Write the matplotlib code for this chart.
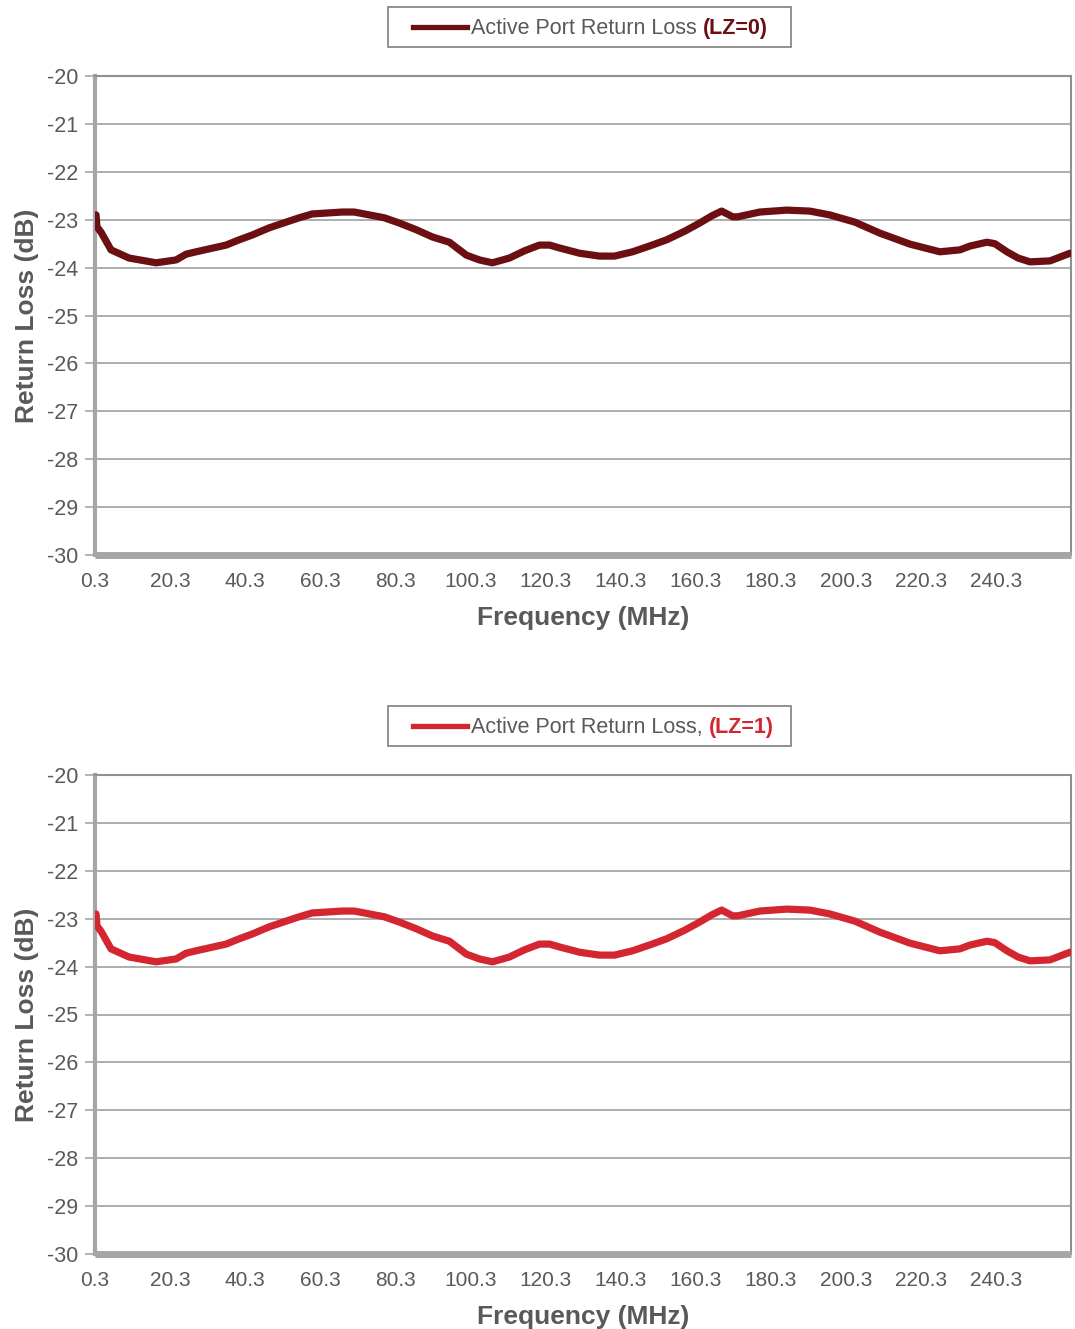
import matplotlib.pyplot as plt
from matplotlib.patches import Rectangle
from matplotlib.lines import Line2D

plt.rcParams["font.family"] = ["Liberation Sans", "DejaVu Sans"]
plt.rcParams["axes.unicode_minus"] = False

# frequency (MHz) and return loss (dB)
freq = [0.3, 0.57, 0.83, 1.9, 4.57, 9.37, 16.57, 21.9, 24.57, 27.23, 35.23,
        38.7, 42.17, 46.7, 51.23, 54.7, 58.17, 66.17, 69.37, 73.37, 77.37,
        81.37, 85.9, 90.17, 94.7, 99.23, 102.7, 106.17, 110.7, 114.7, 118.7,
        121.4, 124.03, 129.4, 134.7, 138.7, 143.5, 148.0, 152.57, 157.4,
        161.37, 164.6, 167.23, 170.17, 171.5, 177.4, 184.57, 190.7, 196.03,
        202.7, 209.37, 217.4, 225.37, 230.7, 233.4, 237.9, 240.0, 243.23,
        246.2, 249.37, 254.7, 260.03]
rl_lz0 = [-22.92, -22.90, -23.15, -23.26, -23.63, -23.80, -23.90, -23.84,
          -23.72, -23.67, -23.53, -23.42, -23.32, -23.17, -23.05, -22.96,
          -22.88, -22.84, -22.84, -22.90, -22.96, -23.07, -23.21, -23.36,
          -23.47, -23.74, -23.84, -23.90, -23.80, -23.65, -23.53, -23.53,
          -23.59, -23.70, -23.76, -23.76, -23.67, -23.55, -23.42, -23.24,
          -23.07, -22.92, -22.82, -22.94, -22.94, -22.84, -22.80, -22.82,
          -22.90, -23.05, -23.28, -23.51, -23.67, -23.63, -23.55, -23.47,
          -23.50, -23.67, -23.80, -23.88, -23.86, -23.70]
rl_lz1 = list(rl_lz0)

xticks = [0.3 + 20 * i for i in range(13)]
yticks = list(range(-30, -19))

W, H = 1075, 1329
fig = plt.figure(figsize=(W / 100, H / 100), dpi=100)

GRAY = "#595959"
SPINE = "#a6a6a6"


def px(x, y):
    return x / W, 1 - y / H


def make_panel(top, ys, color, label, tag, leg_top):
    ax = fig.add_axes([95 / W, 1 - (top + 479) / H, 976 / W, 479 / H])
    ax.plot(freq, ys, color=color, lw=5.2, solid_capstyle="round",
            solid_joinstyle="round", zorder=3)
    ax.set_xlim(0.3, 260.3)
    ax.set_ylim(-30, -20)
    ax.set_xticks(xticks)
    ax.set_xticklabels([f"{t:.1f}" for t in xticks])
    ax.set_yticks(yticks)
    ax.grid(axis="y", color="#a0a0a0", lw=1.2)
    ax.set_axisbelow(True)
    ax.tick_params(axis="x", length=0, pad=12, labelsize=15, labelcolor=GRAY)
    ax.tick_params(axis="y", length=7, width=1.2, color=SPINE, pad=5,
                   labelsize=15.5, labelcolor=GRAY)
    ax.spines["left"].set_color(SPINE)
    ax.spines["left"].set_linewidth(3)
    ax.spines["bottom"].set_color(SPINE)
    ax.spines["bottom"].set_linewidth(5)
    ax.spines["bottom"].set_capstyle("butt")
    for s in ("top", "right"):
        ax.spines[s].set_color("#909090")
        ax.spines[s].set_linewidth(1.5)
    ax.set_xlabel("Frequency (MHz)", fontsize=19, fontweight="bold",
                  color=GRAY, labelpad=11)
    ax.set_ylabel("Return Loss (dB)", fontsize=19, fontweight="bold",
                  color=GRAY, labelpad=6)

    # legend box drawn by hand (mixed normal/bold text)
    x0, y0 = px(388, leg_top + 40)
    fig.add_artist(Rectangle((x0, y0), 403 / W, 40 / H, transform=fig.transFigure,
                             fill=False, ec="#7f7f7f", lw=1.2))
    lx0, ly = px(413, leg_top + 20)
    lx1, _ = px(467, leg_top + 20)
    fig.add_artist(Line2D([lx0, lx1], [ly, ly], transform=fig.transFigure,
                          color=color, lw=3.8))
    tx, ty = px(471, leg_top + 21.5)
    t1 = fig.text(tx, ty, label, fontsize=15.5, color=GRAY, va="center", ha="left")
    r = fig.canvas.get_renderer()
    bb = t1.get_window_extent(renderer=r)
    fig.text(bb.x1 / W + 6 / W, ty, tag, fontsize=15.5, fontweight="bold",
             color=color, va="center", ha="left")
    return ax


make_panel(76, rl_lz0, "#6b0f12", "Active Port Return Loss", "(LZ=0)", 7)
make_panel(775, rl_lz1, "#d42630", "Active Port Return Loss,", "(LZ=1)", 706)

fig.savefig("out.png", dpi=100)
